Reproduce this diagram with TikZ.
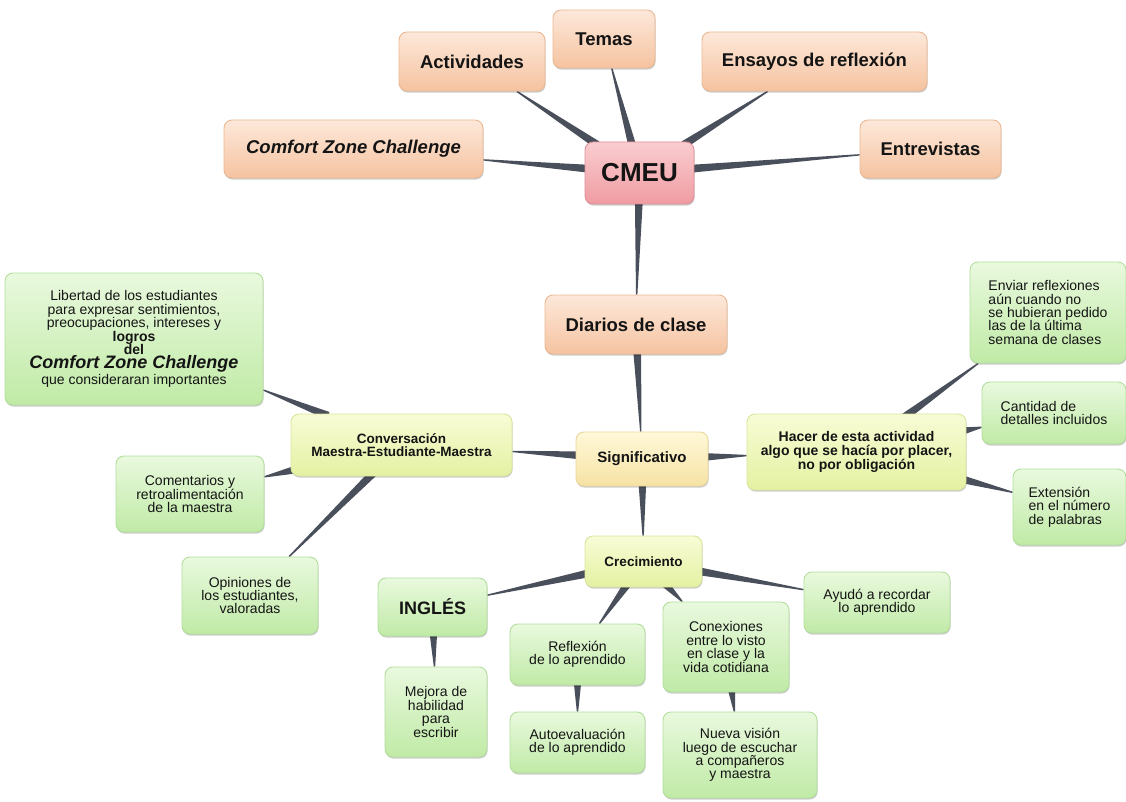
\documentclass[tikz,border=0pt]{standalone}
\usepackage{fontspec}
\setmainfont{Liberation Sans}
\usetikzlibrary{calc,shadows}
\pgfdeclarelayer{background}
\pgfsetlayers{background,main}

\definecolor{peachtop}{HTML}{FDE8DA}
\definecolor{peachbot}{HTML}{F5C3A0}
\definecolor{peachline}{HTML}{EAB893}
\definecolor{rosetop}{HTML}{FACDD0}
\definecolor{rosebot}{HTML}{EF9CA2}
\definecolor{roseline}{HTML}{DE9098}
\definecolor{creamtop}{HTML}{FFF8D8}
\definecolor{creambot}{HTML}{F6E2A4}
\definecolor{creamline}{HTML}{E9D69C}
\definecolor{limetop}{HTML}{F8FCD6}
\definecolor{limebot}{HTML}{E4F1A2}
\definecolor{limeline}{HTML}{D8E59C}
\definecolor{leaftop}{HTML}{E9F9DE}
\definecolor{leafbot}{HTML}{C0EAA6}
\definecolor{leafline}{HTML}{B3DE9C}
\definecolor{spokecol}{HTML}{4A4F5C}

% tapered connector, wide at the parent, thin at the child
\newcommand{\spoke}[2]{%
  \path (#1) -- (#2) coordinate[pos=0] (sp0) coordinate[pos=1] (sp1);
  \coordinate (sp2) at ($(sp0)!-6pt!(sp1)$);
  \fill[spokecol] ($(sp2)!4pt!90:(sp1)$) -- ($(sp1)!0.7pt!-90:(sp2)$)
    -- ($(sp1)!0.7pt!90:(sp2)$) -- ($(sp2)!4pt!-90:(sp1)$) -- cycle;}

\begin{document}
\begin{tikzpicture}[x=1pt,y=-1pt,
  box/.style={rounded corners=8, line width=0.9, align=center, inner sep=3, text=black!92,
    drop shadow={shadow xshift=0.6pt, shadow yshift=-1.6pt, opacity=0.2, fill=black}},
  peach/.style={box, draw=peachline, top color=peachtop, bottom color=peachbot,
    font=\fontsize{18.5}{20}\selectfont\bfseries},
  rose/.style={box, draw=roseline, top color=rosetop, bottom color=rosebot,
    font=\fontsize{26}{28}\selectfont\bfseries},
  cream/.style={box, draw=creamline, top color=creamtop, bottom color=creambot,
    font=\fontsize{15}{16}\selectfont\bfseries},
  lime/.style={box, draw=limeline, top color=limetop, bottom color=limebot,
    font=\fontsize{13.5}{13.6}\selectfont\bfseries},
  leaf/.style={box, draw=leafline, top color=leaftop, bottom color=leafbot,
    font=\fontsize{14}{13.4}\selectfont}]

  \useasboundingbox (0,0) rectangle (1126,802);

  % Centre and its themes
  \node[rose, minimum width=109, minimum height=62] (cmeu) at (639.5,173) {CMEU};
  \node[peach, minimum width=102, minimum height=58] (temas) at (604,39) {Temas};
  \node[peach, minimum width=146, minimum height=59] (activ) at (472,61.5) {Actividades};
  \node[peach, minimum width=225, minimum height=59] (ensayos) at (814.5,61.5) {Ensayos de reflexión};
  \node[peach, minimum width=259, minimum height=58] (comfort) at (353.5,149) {\itshape Comfort Zone Challenge};
  \node[peach, minimum width=141, minimum height=58] (entrev) at (930.5,149) {Entrevistas};
  \node[peach, minimum width=182, minimum height=59] (diarios) at (636,324.5) {Diarios de clase};

  % Middle row
  \node[cream, minimum width=132, minimum height=54] (signif) at (642,459) {Significativo};
  \node[lime, minimum width=221, minimum height=62] (conv) at (401.5,445)
    {Conversación\\Maestra-Estudiante-Maestra};
  \node[lime, minimum width=219, minimum height=76, font=\fontsize{14}{13.8}\selectfont\bfseries] (hacer) at (856.5,452)
    {Hacer de esta actividad\\algo que se hacía por placer,\\no por obligación};
  \node[lime, minimum width=117, minimum height=51] (crec) at (643.5,561.5) {Crecimiento};

  % Left leaves
  \node[leaf, minimum width=258, minimum height=132] (libertad) at (134,339)
    {Libertad de los estudiantes\\para expresar sentimientos,\\preocupaciones, intereses y\\
     \textbf{logros}\\[-0.5pt]\textbf{del}\\[1.5pt]{\fontsize{18}{16}\selectfont\bfseries\itshape Comfort Zone Challenge}\\[0.5pt]
     que consideraran importantes};
  \node[leaf, minimum width=148, minimum height=76] (coment) at (190,494)
    {Comentarios y\\retroalimentación\\de la maestra};
  \node[leaf, minimum width=136, minimum height=77] (opinion) at (250,595.5)
    {Opiniones de\\los estudiantes,\\valoradas};

  % Right leaves
  \node[leaf, align=left, minimum width=156, minimum height=101] (enviar) at (1048,312.5)
    {Enviar reflexiones\\aún cuando no\\se hubieran pedido\\las de la última\\semana de clases};
  \node[leaf, align=left, minimum width=144, minimum height=62] (cantidad) at (1054,413)
    {Cantidad de\\detalles incluidos};
  \node[leaf, align=left, minimum width=113, minimum height=76] (extension) at (1069.5,507)
    {Extensión\\en el número\\de palabras};

  % Bottom leaves
  \node[leaf, minimum width=109, minimum height=58, font=\fontsize{18}{20}\selectfont\bfseries] (ingles) at (432.5,607) {INGLÉS};
  \node[leaf, minimum width=102, minimum height=90] (mejora) at (436,712)
    {Mejora de\\habilidad\\para\\escribir};
  \node[leaf, minimum width=135, minimum height=61] (reflex) at (577.5,654.5)
    {Reflexión\\de lo aprendido};
  \node[leaf, minimum width=135, minimum height=61] (autoev) at (577.5,742.5)
    {Autoevaluación\\de lo aprendido};
  \node[leaf, minimum width=126, minimum height=90] (conex) at (726,647)
    {Conexiones\\entre lo visto\\en clase y la\\vida cotidiana};
  \node[leaf, minimum width=154, minimum height=86] (nueva) at (740,755)
    {Nueva visión\\luego de escuchar\\a compañeros\\y maestra};
  \node[leaf, minimum width=146, minimum height=61] (ayudo) at (877,602.5)
    {Ayudó a recordar\\lo aprendido};

  % Connectors
  \begin{pgfonlayer}{background}
    \foreach \p/\c in {cmeu/temas, cmeu/activ, cmeu/ensayos, cmeu/comfort, cmeu/entrev,
        cmeu/diarios, diarios/signif, signif/conv, signif/hacer, signif/crec,
        conv/libertad, conv/coment, conv/opinion, hacer/enviar, hacer/cantidad,
        hacer/extension, crec/ingles, crec/reflex, crec/conex, crec/ayudo,
        ingles/mejora, reflex/autoev, conex/nueva} {
      \spoke{\p}{\c}
    }
  \end{pgfonlayer}
\end{tikzpicture}
\end{document}
